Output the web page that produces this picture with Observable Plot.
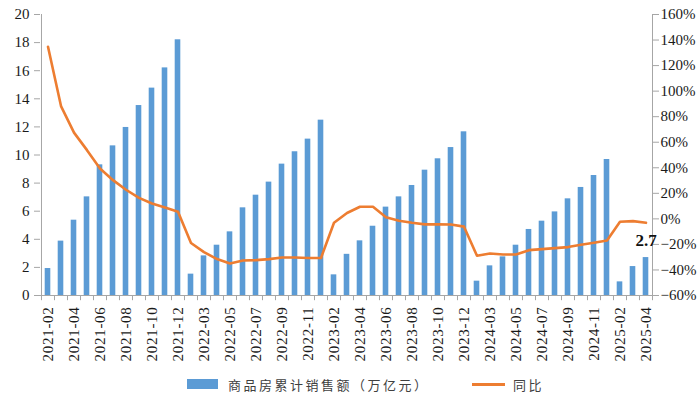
<!DOCTYPE html>
<html>
<head>
<meta charset="utf-8">
<script src="https://cdn.jsdelivr.net/npm/d3@7"></script>
<script src="https://cdn.jsdelivr.net/npm/@observablehq/plot@0.6"></script>
<style>
  body { margin: 0; background: #fff; }
  #wrap { width: 700px; height: 397px; position: relative; overflow: hidden; }
  #legend { position: relative; width: 700px; height: 25px; font-family: "Noto Sans CJK SC", sans-serif; font-size: 13px; color: #404040; }
  #legend span { position: absolute; }
</style>
</head>
<body>
<div id="wrap">
  <div id="chart"></div>
  <div id="legend">
    <span style="left:187px;top:7px;width:31px;height:10px;background:#5B9BD5"></span>
    <span style="left:228px;top:0;line-height:25px;letter-spacing:2.5px">商品房累计销售额（万亿元）</span>
    <span style="left:472px;top:11px;width:33px;height:2.5px;background:#ED7D31"></span>
    <span style="left:513px;top:0;line-height:25px;letter-spacing:2.5px">同比</span>
  </div>
</div>
<script>
const categories = [
  "2021-02","2021-03","2021-04","2021-05","2021-06","2021-07","2021-08","2021-09","2021-10","2021-11","2021-12",
  "2022-02","2022-03","2022-04","2022-05","2022-06","2022-07","2022-08","2022-09","2022-10","2022-11","2022-12",
  "2023-02","2023-03","2023-04","2023-05","2023-06","2023-07","2023-08","2023-09","2023-10","2023-11","2023-12",
  "2024-02","2024-03","2024-04","2024-05","2024-06","2024-07","2024-08","2024-09","2024-10","2024-11","2024-12",
  "2025-02","2025-03","2025-04"
];
const sales = [
  1.92, 3.87, 5.36, 7.02, 9.30, 10.65, 11.96, 13.52, 14.76, 16.20, 18.20,
  1.52, 2.82, 3.58, 4.53, 6.24, 7.14, 8.07, 9.35, 10.23, 11.13, 12.48,
  1.47, 2.93, 3.89, 4.93, 6.29, 7.02, 7.83, 8.92, 9.73, 10.53, 11.65,
  1.02, 2.11, 2.75, 3.58, 4.70, 5.29, 5.95, 6.88, 7.69, 8.54, 9.68,
  0.97, 2.06, 2.70
];
const yoy = [
  134.7, 88.3, 67.5, 53.8, 39.4, 30.3, 22.8, 16.4, 12.0, 8.9, 5.5,
  -18.9, -26.0, -31.5, -34.9, -32.6, -32.3, -31.5, -30.2, -30.2, -30.6, -30.6,
  -3.1, 4.6, 9.5, 9.5, 1.3, -1.5, -3.1, -4.3, -4.3, -4.4, -6.1,
  -28.9, -27.1, -27.9, -27.9, -24.5, -23.7, -22.9, -22.1, -20.3, -18.7, -16.9,
  -2.3, -1.8, -3.1
];
const leftTicks = [0, 2, 4, 6, 8, 10, 12, 14, 16, 18, 20];
const rightTicks = [-60, -40, -20, 0, 20, 40, 60, 80, 100, 120, 140, 160];
const lastLabel = "2.7";

const data = categories.map((c, i) => ({cat: c, sales: sales[i], yoy: yoy[i]}));
const toLeft = v => (v + 60) / 11;
const fromLeft = d => Math.round(d * 11 - 60);
const W = 700, mL = 40, mR = 48;
const half = (W - mL - mR) / categories.length / 2;
const axisGray = "#A6A6A6";
const textColor = "#1a1a1a";
const serif = "'Liberation Serif', 'Times New Roman', serif";

const chart = Plot.plot({
  width: W,
  height: 372,
  marginTop: 14,
  marginBottom: 77,
  marginLeft: mL,
  marginRight: mR,
  style: {fontFamily: serif, fontSize: "15px", background: "transparent"},
  x: {type: "band", domain: categories, padding: 0, axis: null, label: null},
  y: {domain: [0, 20], axis: null, label: null},
  marks: [
    Plot.barY(data, {x: "cat", y: "sales", fill: "#5B9BD5", insetLeft: 3.7, insetRight: 3.7}),
    Plot.ruleY([0], {stroke: axisGray}),
    Plot.ruleX([categories[0]], {x: d => d, dx: -half, y1: 0, y2: 20, stroke: axisGray}),
    Plot.ruleX([categories[categories.length - 1]], {x: d => d, dx: half, y1: 0, y2: 20, stroke: axisGray}),
    Plot.ruleX(categories, {x: d => d, dx: -half, y1: 0, y2: -0.37, stroke: axisGray}),
    Plot.ruleX([categories[categories.length - 1]], {x: d => d, dx: half, y1: 0, y2: -0.37, stroke: axisGray}),
    Plot.axisY(leftTicks, {anchor: "left", label: null, tickSize: 6, tickPadding: 5, fontSize: 15, stroke: axisGray, fill: textColor}),
    Plot.axisY(rightTicks.map(toLeft), {anchor: "right", label: null, tickSize: 6, tickPadding: 2, fontSize: 15, stroke: axisGray, fill: textColor,
      tickFormat: d => { const v = fromLeft(d); return (v < 0 ? "\u2212" + (-v) : v) + "%"; }}),
    Plot.axisX(categories.filter((d, i) => i % 2 === 0), {label: null, tickSize: 0, tickPadding: 11, tickRotate: -90, fontSize: 15, fill: textColor}),
    Plot.line(data, {x: "cat", y: d => toLeft(d.yoy), stroke: "#ED7D31", strokeWidth: 2.6, strokeLinejoin: "round"}),
    Plot.text([data[data.length - 1]], {x: "cat", y: "sales", text: () => lastLabel, dy: -17, fontSize: 17, fontWeight: "bold", fill: "#111"})
  ]
});
chart.style.fontFamily = serif;
chart.querySelectorAll("g, text").forEach(t => {
  t.setAttribute("font-family", serif);
  t.style.fontFamily = serif;
  t.style.fontVariant = "normal";
});
chart.querySelectorAll("[aria-label='x-axis tick label'] text").forEach(t => t.style.letterSpacing = "0.7px");
document.getElementById("chart").appendChild(chart);
</script>
</body>
</html>
